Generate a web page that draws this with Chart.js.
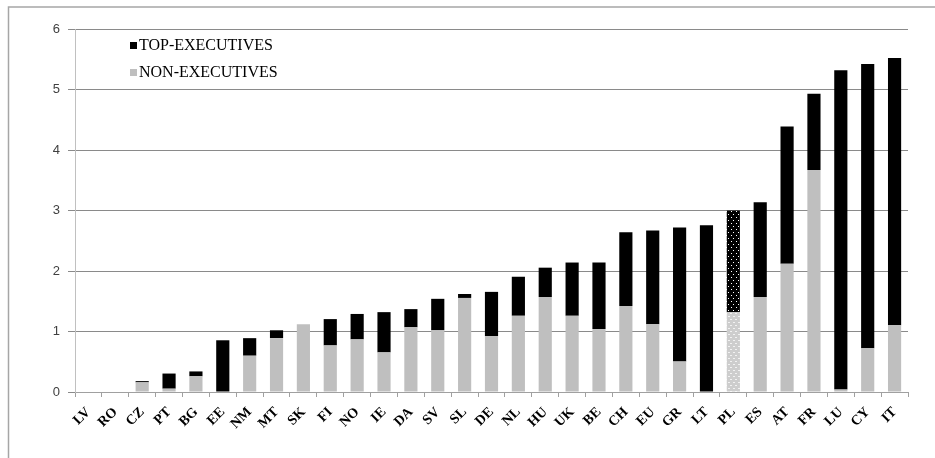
<!DOCTYPE html>
<html>
<head>
<meta charset="utf-8">
<script src="https://cdn.jsdelivr.net/npm/chart.js@4/dist/chart.umd.min.js"></script>
<style>
  html, body { margin: 0; padding: 0; background: #fff; }
  #wrap { position: relative; width: 935px; height: 458px; }
</style>
</head>
<body>
<div id="wrap"><canvas id="barChart"></canvas></div>
<script>
// --- DATA ---
const countries = ['LV', 'RO', 'CZ', 'PT', 'BG', 'EE', 'NM', 'MT', 'SK', 'FI', 'NO', 'IE', 'DA', 'SV', 'SL',
    'DE', 'NL', 'HU', 'UK', 'BE', 'CH', 'EU', 'GR', 'LT', 'PL', 'ES', 'AT', 'FR', 'LU', 'CY', 'IT'];
const nonExecutives = [0, 0, 0.16, 0.055, 0.26, 0, 0.6, 0.89, 1.12, 0.77, 0.87, 0.655, 1.07, 1.02, 1.555,
    0.925, 1.26, 1.57, 1.26, 1.04, 1.42, 1.12, 0.505, 0, 1.32, 1.57, 2.12, 3.67, 0.04, 0.725, 1.105];
const topExecutives = [0, 0, 0.02, 0.25, 0.08, 0.855, 0.29, 0.13, 0, 0.435, 0.42, 0.665, 0.30, 0.52, 0.065,
    0.73, 0.645, 0.485, 0.88, 1.10, 1.22, 1.55, 2.215, 2.755, 1.68, 1.565, 2.27, 1.26, 5.28, 4.695, 4.415];
const yTicks = [0, 1, 2, 3, 4, 5, 6];
const hatched = ['PL']; // bar drawn with a dotted fill

// dotted fills for the hatched country
function dotPattern(base, dot, dashed) {
    const c = document.createElement('canvas');
    c.width = 5; c.height = 6;
    const g = c.getContext('2d');
    g.fillStyle = base;
    g.fillRect(0, 0, 5, 6);
    g.fillStyle = dot;
    if (dashed) {
        g.fillRect(0, 1, 2, 1);
        g.fillRect(3, 4, 2, 1);
    } else {
        g.fillRect(1, 1, 1, 1);
        g.fillRect(3, 4, 1, 1);
    }
    return g.createPattern(c, 'repeat');
}
const blackDots = dotPattern('#000000', '#ffffff', false);
const greyDots = dotPattern('#cdcdcd', '#f2f2f2', true);

// frame + legend drawn straight on the canvas
const frameAndLegend = {
    id: 'frameAndLegend',
    beforeDraw(chart) {
        const ctx = chart.ctx;
        ctx.save();
        ctx.strokeStyle = '#a6a6a6';
        ctx.lineWidth = 1.5;
        ctx.beginPath();
        ctx.moveTo(935, 7);
        ctx.lineTo(8.5, 7);
        ctx.lineTo(8.5, 458);
        ctx.stroke();
        ctx.restore();
    },
    afterDraw(chart) {
        const ctx = chart.ctx;
        ctx.save();
        ctx.font = '16px "Liberation Serif", "Times New Roman", serif';
        ctx.textBaseline = 'middle';
        ctx.fillStyle = '#000';
        ctx.fillRect(130, 42, 7, 7);
        ctx.fillText('TOP-EXECUTIVES', 139, 46);
        ctx.fillStyle = '#bfbfbf';
        ctx.fillRect(130, 69, 7, 7);
        ctx.fillStyle = '#000';
        ctx.fillText('NON-EXECUTIVES', 139, 73);
        ctx.restore();
    }
};

const ctxBar = document.getElementById('barChart');
new Chart(ctxBar, {
    type: 'bar',
    data: {
        labels: countries,
        datasets: [{
            label: 'NON-EXECUTIVES',
            data: nonExecutives,
            backgroundColor: countries.map(c => hatched.includes(c) ? greyDots : '#bfbfbf'),
            borderWidth: 0,
            barPercentage: 0.49,
            categoryPercentage: 1
        }, {
            label: 'TOP-EXECUTIVES',
            data: topExecutives,
            backgroundColor: countries.map(c => hatched.includes(c) ? blackDots : '#000000'),
            borderWidth: 0,
            barPercentage: 0.49,
            categoryPercentage: 1
        }]
    },
    options: {
        responsive: true,
        maintainAspectRatio: false,
        animation: false,
        layout: { padding: { top: 29, right: 27, left: 0, bottom: 0 } },
        scales: {
            x: {
                stacked: true,
                afterFit(s) { s.height = 66; },
                border: { color: '#a0a0a0', width: 1 },
                grid: {
                    offset: true,
                    drawOnChartArea: false,
                    drawTicks: true,
                    tickLength: 5,
                    color: '#a0a0a0'
                },
                ticks: {
                    autoSkip: false,
                    maxRotation: 45,
                    minRotation: 45,
                    padding: 7,
                    color: '#000',
                    font: { family: '"Liberation Serif", "Times New Roman", serif', size: 14, weight: 'bold' }
                }
            },
            y: {
                stacked: true,
                min: 0,
                max: 6,
                afterFit(s) { s.width = 75; },
                afterBuildTicks(s) { s.ticks = yTicks.map(v => ({ value: v })); },
                border: { color: '#c0c0c0', width: 1 },
                grid: {
                    color: '#8a8a8a',
                    lineWidth: 1,
                    drawTicks: true,
                    tickLength: 7
                },
                ticks: {
                    padding: 8,
                    color: '#404040',
                    font: { family: '"Liberation Sans", Arial, sans-serif', size: 13 }
                }
            }
        },
        plugins: {
            legend: { display: false },
            tooltip: { enabled: false }
        }
    },
    plugins: [frameAndLegend]
});
</script>
</body>
</html>
